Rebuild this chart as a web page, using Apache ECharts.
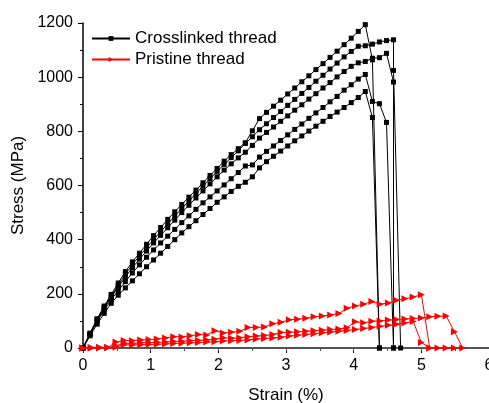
<!DOCTYPE html>
<html><head><meta charset="utf-8">
<script src="https://cdn.jsdelivr.net/npm/echarts@6/dist/echarts.min.js"></script>
<style>html,body{margin:0;padding:0;background:#fff;overflow:hidden}#c{width:489px;height:403px}</style>
</head><body><div id="c"></div>
<script>
// ---- data ----
const crossStrain = [0,0.104,0.209,0.313,0.417,0.521,0.626,0.730,0.834,0.939,1.043,1.147,1.252,1.356,1.460,1.565,1.669,1.773,1.877,1.982,2.086,2.190,2.295,2.399,2.503,2.608,2.712,2.816,2.921,3.025,3.129,3.234,3.338,3.442,3.547,3.651,3.755,3.859,3.964,4.068,4.172,4.277,4.381,4.485,4.589,4.694];
const cross1 = [0,55,108,155,198,240,282,318,350,383,415,445,475,503,530,557,583,610,637,663,690,714,736,758,802,847,870,893,915,938,960,983,1005,1028,1050,1073,1096,1120,1144,1169,1194,1064,0];
const cross2 = [0,53,105,150,192,232,272,308,340,370,400,430,458,487,515,543,570,598,625,652,678,703,728,755,780,806,828,851,873,896,918,940,962,985,1007,1030,1052,1075,1095,1114,1116,1122,1130,1135,1138];
const cross2TailStrain = [4.589,4.694];
const cross2TailStress = [1025,0];
const cross3 = [0,52,102,147,187,225,262,296,328,358,388,416,444,472,500,527,554,580,606,632,657,680,702,723,748,775,796,816,837,857,878,898,919,939,960,980,1001,1021,1040,1053,1058,1070,1072,1088,982];
const cross3TailStrain = [4.589];
const cross3TailStress = [0];
const cross4 = [0,50,98,140,178,212,245,277,307,335,362,388,413,438,463,488,512,536,558,580,602,625,648,672,676,705,726,746,766,787,807,827,848,868,888,909,929,952,972,993,1010,910,902,833,0];
const cross5 = [0,45,88,128,165,195,222,248,274,300,325,350,375,400,425,448,470,493,515,538,558,578,597,612,632,665,688,708,727,746,765,783,801,819,837,855,871,888,906,925,947,851,0];

const pristStrain = [0,0.122,0.244,0.366,0.488,0.610,0.732,0.854,0.976,1.098,1.220,1.342,1.464,1.586,1.708,1.830,1.952,2.074,2.196,2.318,2.440,2.562,2.684,2.806,2.928,3.050,3.172,3.294,3.416,3.538,3.660,3.782,3.904,4.026,4.148,4.270,4.392,4.514,4.636,4.758,4.880,5.002,5.124,5.246,5.368,5.490,5.612];
const prist1 = [0,2,3,2,22,28,27,30,31,33,37,42,41,45,50,48,64,55,58,62,76,76,78,90,95,104,106,110,115,118,122,127,147,155,162,172,162,166,176,182,188,197,0,0,0,0];
const prist2 = [0,0,1,2,8,18,17,19,20,21,22,24,25,27,28,30,32,38,36,38,42,44,46,50,57,58,60,62,64,66,68,70,75,97,93,99,100,103,105,107,109,111,115,117,118,60,0];
const prist3 = [0,0,0,1,3,12,11,12,13,14,15,17,18,19,20,22,23,26,27,28,30,33,35,37,40,44,47,50,53,56,59,62,65,68,72,76,80,84,88,92,98,20,0];

const xTicks = [0,1,2,3,4,5,6];
const yTicks = [0,200,400,600,800,1000,1200];
const crossName = 'Crosslinked thread';
const pristName = 'Pristine thread';

// ---- build ----
function pairs(xs, ys, tx, ty) {
  const d = ys.map((v, i) => [xs[i], v]);
  if (tx) tx.forEach((x, i) => d.push([x, ty[i]]));
  return d;
}
const font = "'Liberation Sans', Arial, sans-serif";
const crossStyle = (data) => ({
  type: 'line', name: crossName, data, symbol: 'rect', symbolSize: 5,
  lineStyle: {color: '#000', width: 1}, itemStyle: {color: '#000'},
  animation: false, z: 3
});
const pristStyle = (data) => ({
  type: 'line', name: pristName, data, symbol: 'triangle', symbolSize: 7, symbolRotate: -90,
  lineStyle: {color: '#ff0000', width: 1}, itemStyle: {color: '#ff0000'},
  animation: false, z: 4
});
const series = [
  crossStyle(pairs(crossStrain, cross1)),
  crossStyle(pairs(crossStrain, cross2, cross2TailStrain, cross2TailStress)),
  crossStyle(pairs(crossStrain, cross3, cross3TailStrain, cross3TailStress)),
  crossStyle(pairs(crossStrain, cross4)),
  crossStyle(pairs(crossStrain, cross5)),
  pristStyle(pairs(pristStrain, prist1)),
  pristStyle(pairs(pristStrain, prist2)),
  pristStyle(pairs(pristStrain, prist3))
];

const chart = echarts.init(document.getElementById('c'), null, {renderer: 'canvas'});
chart.setOption({
  animation: false,
  backgroundColor: '#fff',
  textStyle: {fontFamily: font},
  grid: {left: 83, right: 0, top: 23, bottom: 55, containLabel: false, outerBoundsMode: 'none'},
  legend: {
    data: [crossName, pristName], orient: 'vertical', left: 91, top: 30, padding: 0,
    itemWidth: 38, itemHeight: 6, itemGap: 4,
    textStyle: {fontFamily: font, fontSize: 17, lineHeight: 17, color: '#000'}
  },
  xAxis: [{
    type: 'value', min: xTicks[0], max: xTicks[xTicks.length-1], interval: 1,
    name: 'Strain (%)', nameLocation: 'middle', nameGap: 39,
    nameTextStyle: {fontFamily: font, fontSize: 17, color: '#000'},
    axisLine: {show: true, onZero: false, lineStyle: {color: '#000', width: 1.5}},
    axisTick: {show: true, inside: false, length: 5, lineStyle: {color: '#000', width: 1}},
    minorTick: {show: true, splitNumber: 2, length: 3, lineStyle: {color: '#000', width: 1}},
    axisLabel: {fontFamily: font, fontSize: 16, color: '#000', margin: 10, formatter: v => String(v)},
    splitLine: {show: false}
  }, {
    type: 'value', position: 'top', min: 0, max: 6, interval: 0.5,
    axisLine: {show: true, lineStyle: {color: '#555', width: 2}},
    axisTick: {show: true, inside: true, length: 3, lineStyle: {color: '#555'}},
    axisLabel: {show: false}, splitLine: {show: false}
  }],
  yAxis: {
    type: 'value', min: yTicks[0], max: yTicks[yTicks.length-1], interval: 200,
    name: 'Stress (MPa)', nameLocation: 'middle', nameGap: 55,
    nameTextStyle: {fontFamily: font, fontSize: 17, color: '#000'},
    axisLine: {show: true, lineStyle: {color: '#000', width: 1.5}},
    axisTick: {show: true, inside: false, length: 5, lineStyle: {color: '#000'}},
    minorTick: {show: true, splitNumber: 2, length: 3, lineStyle: {color: '#000'}},
    axisLabel: {fontFamily: font, fontSize: 16, color: '#000', margin: 10, formatter: v => String(v)},
    splitLine: {show: false}
  },
  series
});
</script></body></html>
